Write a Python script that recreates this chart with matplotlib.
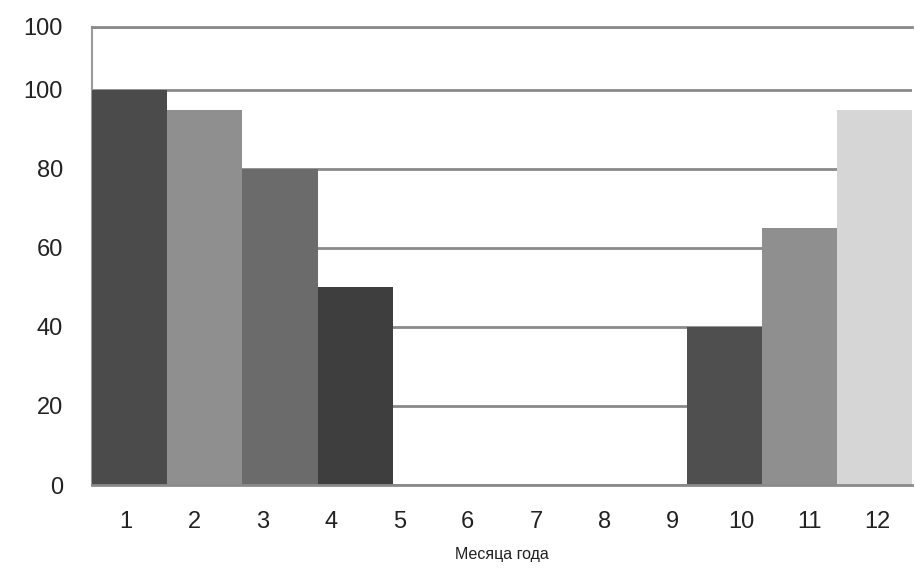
import numpy as np
import matplotlib.pyplot as plt

months = ["1", "2", "3", "4", "5", "6", "7", "8", "9", "10", "11", "12"]
values = [100, 95, 80, 50, 0, 0, 0, 0, 0, 40, 65, 95]
bar_colors = ["#4b4b4b", "#8f8f8f", "#6b6b6b", "#3e3e3e", "#4b4b4b", "#8f8f8f",
              "#6b6b6b", "#3e3e3e", "#4b4b4b", "#4f4f4f", "#8f8f8f", "#d6d6d6"]
y_ticks = [0, 20, 40, 60, 80, 100, 116]
y_labels = ["0", "20", "40", "60", "80", "100", "100"]

plt.rcParams['font.family'] = ['Liberation Sans', 'DejaVu Sans']

fig = plt.figure(figsize=(9.15, 5.8), dpi=100)
ax = fig.add_axes([92 / 915, 95 / 580, 820 / 915, 458.3 / 580])

# bars are a bit wider than a month slot: winter months packed from the left,
# autumn ones packed from the right
n = np.arange(1, 13)
w = 1.1
left = np.where(n <= 6, 0.5 + w * (n - 1), 12.5 - w * (13 - n))
ax.bar(left, values, width=w, align='edge', color=bar_colors, zorder=3, linewidth=0)

ax.set_xlim(0.5, 12.5)
ax.set_ylim(0, 116)
ax.set_xticks(n)
ax.set_xticklabels(months)
ax.set_yticks(y_ticks)
ax.set_yticklabels(y_labels)

ax.grid(axis='y', color='#8a8a8a', linewidth=2, zorder=1)
ax.tick_params(axis='both', length=0, labelsize=17, labelcolor='#222222')
ax.tick_params(axis='y', pad=21)
ax.tick_params(axis='x', pad=19)

ax.spines['right'].set_visible(False)
ax.spines['left'].set_color('#9a9a9a')
ax.spines['left'].set_linewidth(1.5)
ax.spines['top'].set_color('#8a8a8a')
ax.spines['top'].set_linewidth(2)
ax.spines['bottom'].set_color('#8a8a8a')
ax.spines['bottom'].set_linewidth(2)
ax.spines['bottom'].set_zorder(4)

ax.set_xlabel("Месяца года", fontsize=11.5, color='#222222', labelpad=10)

fig.savefig("out.png", dpi=100)
